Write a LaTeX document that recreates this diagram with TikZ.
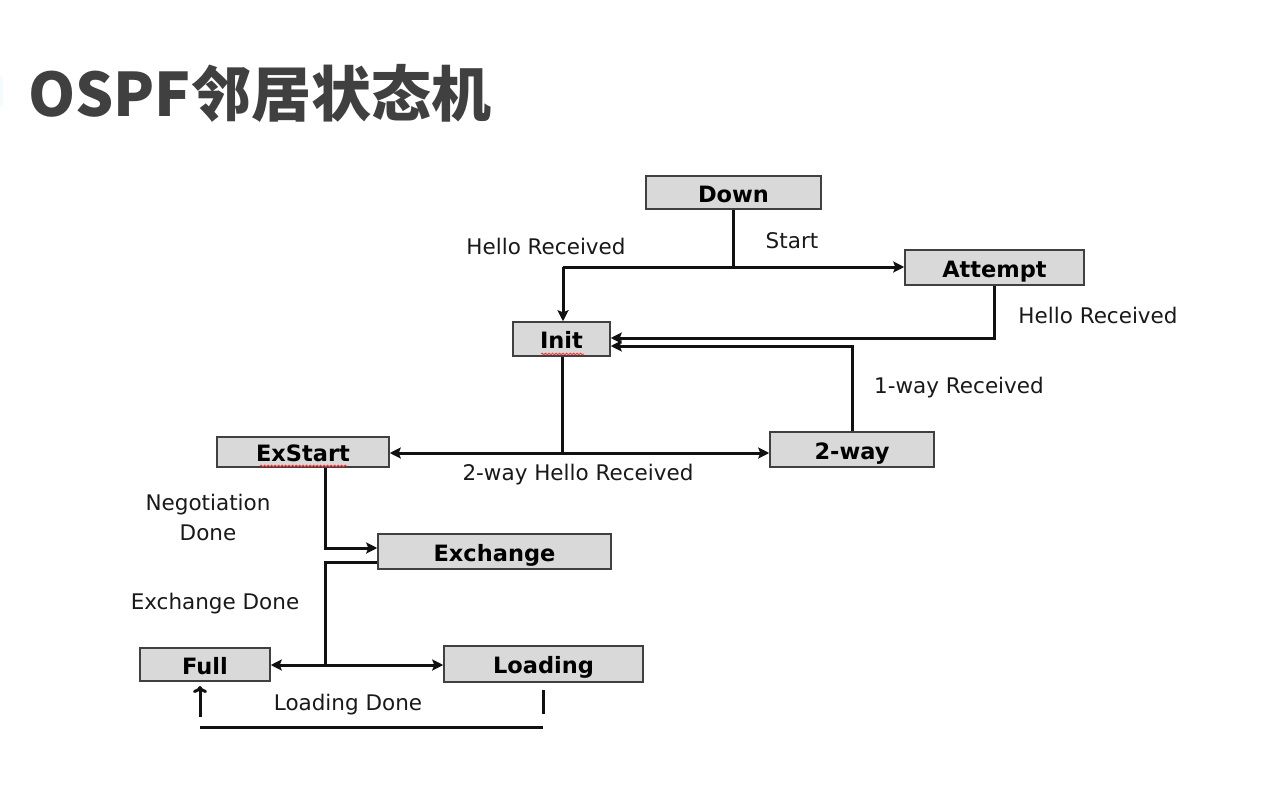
\documentclass[tikz,border=0pt]{standalone}
\usepackage{fontspec}
\setmainfont{DejaVu Sans}
\newfontfamily\cjktitle{Noto Sans CJK SC}
\usetikzlibrary{arrows.meta,decorations.pathmorphing}
\definecolor{boxfill}{HTML}{D9D9D9}
\definecolor{boxline}{HTML}{404040}
\definecolor{titlegray}{HTML}{404040}
\definecolor{wire}{HTML}{111111}
\tikzset{
  box/.style={draw=boxline, fill=boxfill, line width=1.5pt, inner sep=0pt,
    font=\fontsize{22.5}{26}\selectfont\bfseries, text=black,
    text height=22pt, text depth=3pt},
  wireline/.style={draw=wire, line width=3pt},
  arr/.style={wireline, -{Stealth[length=11pt,width=11pt,inset=2pt]}},
  darr/.style={wireline, {Stealth[length=11pt,width=11pt,inset=2pt]}-{Stealth[length=11pt,width=11pt,inset=2pt]}},
  lbl/.style={font=\fontsize{21.5}{26}\selectfont, text=black!90, inner sep=0pt},
  spell/.style={draw=red!80, line width=0.8pt, decorate,
    decoration={snake, amplitude=0.9pt, segment length=3.5pt}}
}
\begin{document}
\begin{tikzpicture}[x=1pt,y=-1pt]
\useasboundingbox[fill=white] (0,0) rectangle (1272,800);
% faint edge mark
\fill[cyan!4] (0,76) rectangle (3,106);
% title
\node[anchor=west, inner sep=0pt, text=titlegray, font=\cjktitle\fontsize{60}{66}\selectfont\bfseries] (title) at (28,93) {OSPF邻居状态机};

% states
\node[box, minimum width=175pt, minimum height=33pt] (down) at (733.5,192.5) {Down};
\node[box, minimum width=179pt, minimum height=35pt] (attempt) at (994.5,267.5) {Attempt};
\node[box, minimum width=97pt, minimum height=34pt] (init) at (561.5,339) {Init};
\node[box, minimum width=172pt, minimum height=30pt] (exstart) at (303,452) {ExStart};
\node[box, minimum width=164pt, minimum height=35pt] (twoway) at (852,449.5) {2-way};
\node[box, minimum width=233pt, minimum height=35pt] (exchange) at (494.5,551.5) {Exchange};
\node[box, minimum width=130pt, minimum height=33pt] (full) at (205,664.5) {Full};
\node[box, minimum width=199pt, minimum height=36pt] (loading) at (543.5,664) {Loading};

% spell-check underlines
\draw[spell] (541,354) -- (584,354);
\draw[spell] (260,466) -- (347,466);

% helper coordinates
\coordinate (j1) at (733,267);
\coordinate (j1l) at (563,267);
\coordinate (a1) at (994,338);
\coordinate (t1) at (852,346);
\coordinate (j2) at (562,453);
\coordinate (e1) at (325,548);
\coordinate (x1) at (325,562);
\coordinate (j3) at (325,665);
\coordinate (ld1) at (543,690);
\coordinate (ld2) at (543,714);
\coordinate (b1) at (200,727);
\coordinate (b2) at (543,727);
\coordinate (f1) at (200,717);
\coordinate (f2) at (200,686);

% connectors
\draw[wireline] (down.south -| j1) -- (j1);
\draw[arr] (j1l) -- (j1l -| attempt.west);
\draw[arr] (j1l) -- (j1l |- init.north);
\draw[arr] (attempt.south -| a1) -- (a1) -- (a1 -| init.east);
\draw[arr] (twoway.north -| t1) -- (t1) -- (t1 -| init.east);
\draw[wireline] (init.south -| j2) -- (j2);
\draw[darr] (j2 -| exstart.east) -- (j2 -| twoway.west);
\draw[arr] (exstart.south -| e1) -- (e1) -- (e1 -| exchange.west);
\draw[wireline] (x1 -| exchange.west) -- (x1) -- (j3);
\draw[darr] (j3 -| full.east) -- (j3 -| loading.west);
\draw[wireline] (ld1) -- (ld2);
\draw[wireline] (b1) -- (b2);
\draw[draw=wire, line width=3pt, -{To[length=7pt,width=14pt]}] (f1) -- (f2);

% labels
\node[lbl] (l1) at (546,246) {Hello Received};
\node[lbl] (l2) at (792,241) {Start};
\node[lbl] (l3) at (1098,315) {Hello Received};
\node[lbl] (l4) at (959,388) {1-way Received};
\node[lbl] (l5) at (578,475) {2-way Hello Received};
\node[lbl, align=center, font=\fontsize{21.5}{30}\selectfont] (l6) at (208,517) {Negotiation\\Done};
\node[lbl] (l7) at (215,604) {Exchange Done};
\node[lbl] (l8) at (348,705) {Loading Done};
\end{tikzpicture}
\end{document}
